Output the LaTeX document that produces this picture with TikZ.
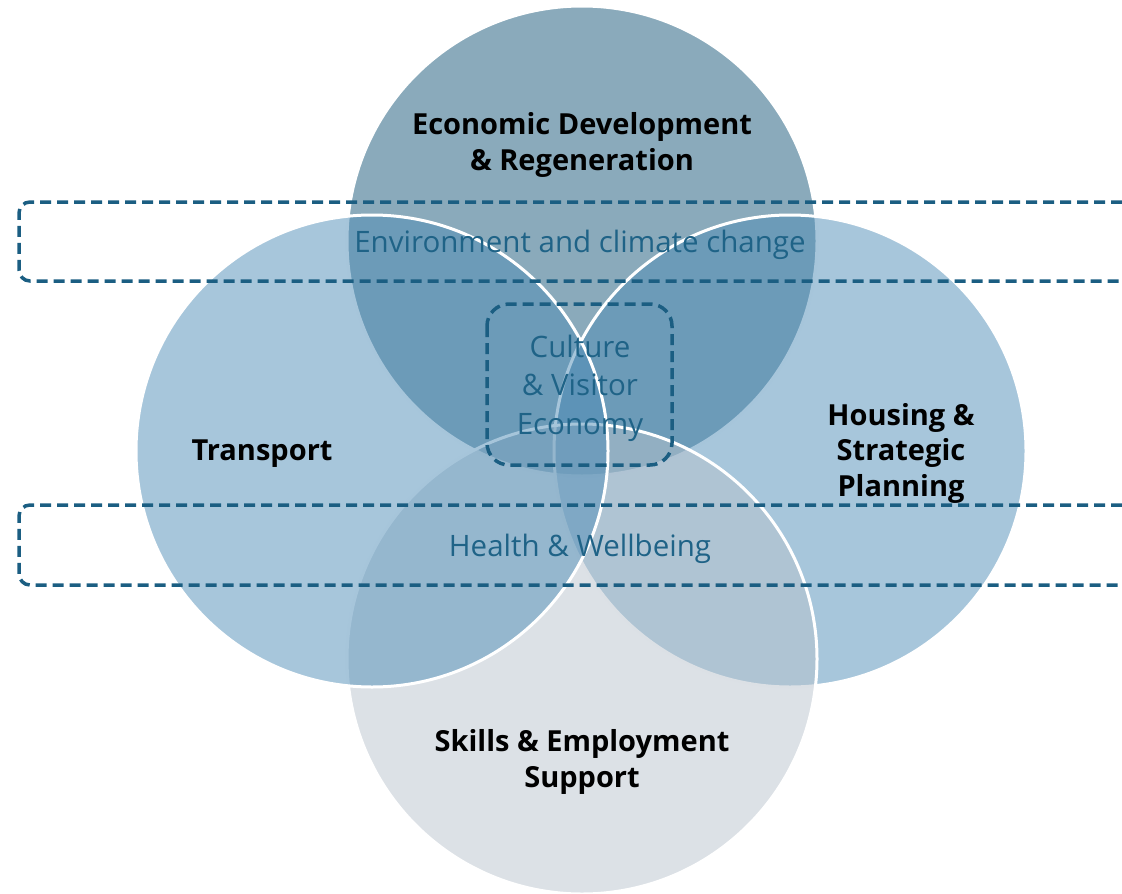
\documentclass[tikz,border=0pt]{standalone}
\usepackage{fontspec}
\setmainfont{Open Sans}
\definecolor{topc}{RGB}{138,170,187}
\definecolor{bluec}{RGB}{79,141,183}
\definecolor{grayc}{RGB}{185,195,205}
\definecolor{dashc}{RGB}{27,94,130}
\definecolor{txtc}{RGB}{31,99,135}
\tikzset{
  venn/.style={draw=white, line width=3pt},
  dashbox/.style={draw=dashc, line width=3.5pt, dash pattern=on 11pt off 6pt},
  biglabel/.style={font=\fontsize{29}{35.5}\selectfont\bfseries, text=black, align=center, inner sep=0pt},
  themelabel/.style={font=\fontsize{29.5}{38.5}\selectfont, text=txtc, align=center, inner sep=0pt},
}
\begin{document}
\begin{tikzpicture}[x=1pt,y=-1pt]
\useasboundingbox (0,0) rectangle (1122,894);
% circles (order: top, right, bottom, left)
\path[venn, fill=topc] (582,241) circle[radius=235];
\path[venn, fill=bluec, fill opacity=0.5] (790,451) circle[radius=236];
\path[venn, fill=grayc, fill opacity=0.5] (582,659) circle[radius=235];
\path[venn, fill=bluec, fill opacity=0.5] (372,451) circle[radius=236];
% dashed bands
\draw[dashbox, rounded corners=11pt] (1122,202) -- (19,202) -- (19,281) -- (1122,281);
\draw[dashbox, rounded corners=11pt] (1122,505) -- (19,505) -- (19,585) -- (1122,585);
\draw[dashbox, rounded corners=22pt] (487,304) rectangle (672,465);
% labels
\node[biglabel] (econ) at (582,145) {Economic Development\\\& Regeneration};
\node[biglabel] (trans) at (262,454) {Transport};
\node[biglabel] (hous) at (901,453) {Housing \&\\Strategic\\Planning};
\node[biglabel] (skill) at (582,762) {Skills \& Employment\\Support};
\node[themelabel] (env) at (580,245) {Environment and climate change};
\node[themelabel] (cult) at (580,388) {Culture\\\& Visitor\\Economy};
\node[themelabel] (health) at (580,549) {Health \& Wellbeing};
\end{tikzpicture}
\end{document}
